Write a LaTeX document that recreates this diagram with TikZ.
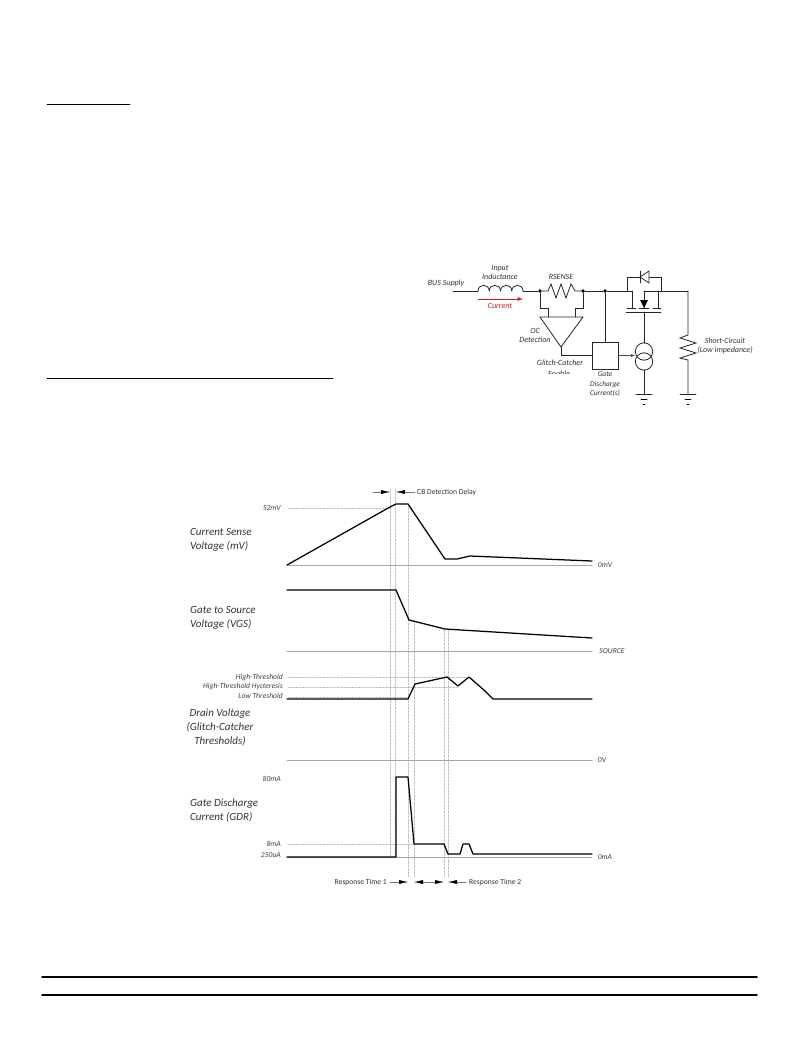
\documentclass[tikz,border=0pt]{standalone}
\usepackage{fontspec}
\setmainfont{Carlito}
\usetikzlibrary{arrows.meta}
\definecolor{currentred}{RGB}{200,30,35}
\tikzset{
  wire/.style={line width=0.8pt,black!85},
  trace/.style={line width=1.25pt,black,line join=round},
  zeroline/.style={line width=0.6pt,black!35},
  guide/.style={line width=0.4pt,black!35,densely dotted},
  spantip/.style={-{Latex[length=9pt,width=4pt,black]},line width=0.4pt,black!55},
  lab/.style={font=\itshape\fontsize{8}{9}\selectfont,black!80,inner sep=0pt,align=center},
  levellab/.style={font=\itshape\fontsize{7.6}{8.5}\selectfont,black!75,inner sep=0pt},
  signame/.style={font=\itshape\fontsize{11}{14}\selectfont,black!80,inner sep=0pt,align=left},
  delaylab/.style={font=\fontsize{7.6}{8.5}\selectfont,black!80,inner sep=0pt},
  jdot/.style={circle,fill=black,inner sep=0pt,minimum size=3.6pt},
}
\begin{document}
\begin{tikzpicture}[x=1pt,y=-1pt,>=latex,line cap=round]
        \useasboundingbox (0,0) rectangle (802,1038);

        % page rules
        \coordinate (ruleA) at (47,104);
        \coordinate (ruleB) at (130,104);
        \coordinate (ruleC) at (47,378);
        \coordinate (ruleD) at (333,378);
        \coordinate (ruleE) at (42,977);
        \coordinate (ruleF) at (757,977);
        \coordinate (ruleG) at (42,995);
        \coordinate (ruleH) at (757,995);
        \draw[line width=0.7pt] (ruleA) -- (ruleB);
        \draw[line width=0.7pt] (ruleC) -- (ruleD);
        \draw[line width=1.5pt] (ruleE) -- (ruleF);
        \draw[line width=1.5pt] (ruleG) -- (ruleH);

        % circuit: supply, inductor, sense resistor
        \coordinate (busin) at (453,291);
        \coordinate (indin) at (478,291);
        \coordinate (indout) at (523,291);
        \node[jdot] (jleft) at (540,291) {};
        \node[jdot] (jright) at (583,291) {};
        \node[jdot] (jgate) at (605,291) {};
        \coordinate (srcstem) at (632,291);
        \coordinate (drnstem) at (644,291);
        \coordinate (load) at (688,291);
        \draw[wire] (busin) -- (indin);
        \foreach \x in {478,489.25,500.5,511.75}
                \draw[wire] (\x,291) .. controls (\x,283.5) and ({\x+11.25},283.5) .. ({\x+11.25},291);
        \draw[wire] (indout) -- (jleft);
        \draw[wire] (jleft) -- (548,291) -- (551,284) -- (556,298) -- (561,284) -- (566,298) -- (571,284) -- (575,291) -- (jright);
        \draw[wire] (jright) -- (jgate) -- (srcstem);

        % current arrow
        \coordinate (currA) at (478,299);
        \coordinate (currB) at (523,299);
        \draw[->,currentred,line width=0.9pt] (currA) -- (currB);

        % comparator
        \coordinate (ampL) at (540,317);
        \coordinate (ampR) at (583,317);
        \coordinate (ampO) at (561,347);
        \draw[wire] (ampL) -- (ampR) -- (ampO) -- cycle;
        \draw[wire] (jleft) -- (540,308) -- (548,308) -- (548,317);
        \draw[wire] (jright) -- (583,308) -- (575,308) -- (575,317);

        % discharge block and current source
        \node[draw,wire,minimum width=26pt,minimum height=27pt,inner sep=0pt] (gdbox) at (605,355.5) {};
        \coordinate (srctop) at (644,343);
        \coordinate (srcbot) at (644,370);
        \draw[wire] (jgate) -- (gdbox);
        \draw[wire] (ampO) -- (561,355.5) -- (gdbox.west);
        \draw[-{Latex[length=4pt,width=3pt]},line width=0.5pt,black!70] (gdbox.east) -- (635,355.5);
        \draw[wire] (644,351.5) circle (8.7pt);
        \draw[wire] (644,361.5) circle (8.7pt);

        % mosfet with its diode
        \draw[wire] (srcstem) -- (632,308);
        \draw[wire] (drnstem) -- (load);
        \draw[wire] (drnstem) -- (644,308);
        \draw[wire] (658,291) -- (658,308);
        \foreach \xa/\xb in {627/636,639/649,653/661}
                \draw[wire] (\xa,308) -- (\xb,308);
        \draw[wire] (626,312) -- (661,312);
        \fill[black] (640,300) -- (648,300) -- (644,308) -- cycle;
        \draw[wire] (644,312) -- (srctop);
        \draw[wire] (627,291) -- (627,277) -- (640,277);
        \draw[wire] (649,277) -- (661,277) -- (661,291);
        \draw[wire] (649,271) -- (649,283) -- (640,277) -- cycle;
        \draw[wire] (640,271) -- (640,283);

        % load resistor
        \draw[wire] (load) -- (688,335) -- (680,338) -- (696,343) -- (680,348) -- (696,353) -- (680,358) -- (688,360) -- (688,394);

        % grounds
        \draw[wire] (srcbot) -- (644,394);
        \foreach \x in {644,688} {
                \draw[wire] ({\x-8},394) -- ({\x+8},394);
                \draw[line width=0.6pt] ({\x-3},399) -- ({\x+3},399);
                \draw[line width=0.6pt] ({\x-1},404) -- ({\x+1},404);
        }

        % circuit labels
        \node[lab] (lbus) at (446,283) {BUS Supply};
        \node[lab] (lind) at (500,272) {Input\\Inductance};
        \node[lab] (lsense) at (561,277) {RSENSE};
        \node[lab,text=currentred] (lcurr) at (500,306) {Current};
        \node[lab] (locd) at (535,335.5) {OC\\Detection};
        \node[lab] (lglitch) at (560,363) {Glitch-Catcher};
        \node[lab] (lenable) at (559,373.5) {Enable};
        \fill[white] (540,374) rectangle (580,380);
        \node[lab,font=\itshape\fontsize{7.4}{9.6}\selectfont] (lgdc) at (605,384.5) {Gate\\Discharge\\Current(s)};
        \node[lab] (lshort) at (725,346) {Short-Circuit\\(Low impedance)};

        % timing: guides
        \foreach \x/\ya/\yb in {390/490/857,395.5/490/857,408/504/877,414/620/877,444/629/877,448/629/877}
                \draw[guide] (\x,\ya) -- (\x,\yb);
        \foreach \ya/\xa/\xb in {508/288/390,677/288/467,687/288/458,697/288/408,844/288/414}
                \draw[guide] (\xa,\ya) -- (\xb,\ya);

        % timing: zero lines and their labels
        \foreach \y/\ytext/\xpos in {
            565/0mV/605,
            651/SOURCE/612,
            760/0V/602,
            857/0mA/605} {
                \draw[zeroline] (287,\y) -- (592,\y);
                \node[levellab] (z\y) at (\xpos,\y) {\ytext};
        }

        % timing: waveforms
        \draw[trace] (287,565) -- (390,507) -- (396,504) -- (408,504) -- (445,559) -- (457,559) -- (470,556) -- (592,561);
        \draw[trace] (287,590) -- (396,590) -- (409,620) -- (445,629) -- (592,638);
        \draw[trace] (287,699) -- (408,699) -- (415,684) -- (447,677) -- (458,686) -- (469,677) -- (485,691) -- (493,699) -- (592,699);
        \draw[trace] (287,857) -- (396,857) -- (396,777) -- (408,777) -- (414,844) -- (444,844) -- (448,854) -- (460,854) -- (463,844) -- (469,844) -- (473,854) -- (592,854);

        % level labels
        \foreach \y/\ytext in {678/High-Threshold,687/High-Threshold Hysteresis,696/Low Threshold}
                \node[levellab,anchor=east] (t\y) at (283,\y) {\ytext};
        \foreach \y/\ytext in {508/52mV,779/80mA,844/8mA,855/250uA}
                \node[levellab,anchor=east] (m\y) at (281,\y) {\ytext};

        % signal names
        \node[signame,anchor=west] (ncs) at (190,540) {Current Sense\\Voltage (mV)};
        \node[signame,anchor=west] (ngs) at (190,618) {Gate to Source\\Voltage (VGS)};
        \node[signame,align=center] (ndv) at (220,727.5) {Drain Voltage\\(Glitch-Catcher\\Thresholds)};
        \node[signame,anchor=west] (ngd) at (190,810) {Gate Discharge\\Current (GDR)};

        % delay arrows
        \node[delaylab,anchor=west] (ncb) at (417,492) {CB Detection Delay};
        \coordinate (cbA) at (373,492);
        \coordinate (cbB) at (390,492);
        \coordinate (cbC) at (396,492);
        \draw[spantip] (cbA) -- (cbB);
        \draw[spantip,shorten <=2pt] (ncb.west) -- (cbC);

        % response time arrows
        \node[delaylab,anchor=east] (nrt1) at (387,882) {Response Time 1};
        \node[delaylab,anchor=west] (nrt2) at (469,882) {Response Time 2};
        \coordinate (rtA) at (408,882);
        \coordinate (rtB) at (414,882);
        \coordinate (rtC) at (430,882);
        \coordinate (rtD) at (444,882);
        \coordinate (rtE) at (448,882);
        \draw[spantip,shorten <=3pt] (nrt1.east) -- (rtA);
        \draw[spantip] (rtC) -- (rtB);
        \draw[spantip] (rtC) -- (rtD);
        \draw[spantip,shorten <=3pt] (nrt2.west) -- (rtE);
\end{tikzpicture}
\end{document}
